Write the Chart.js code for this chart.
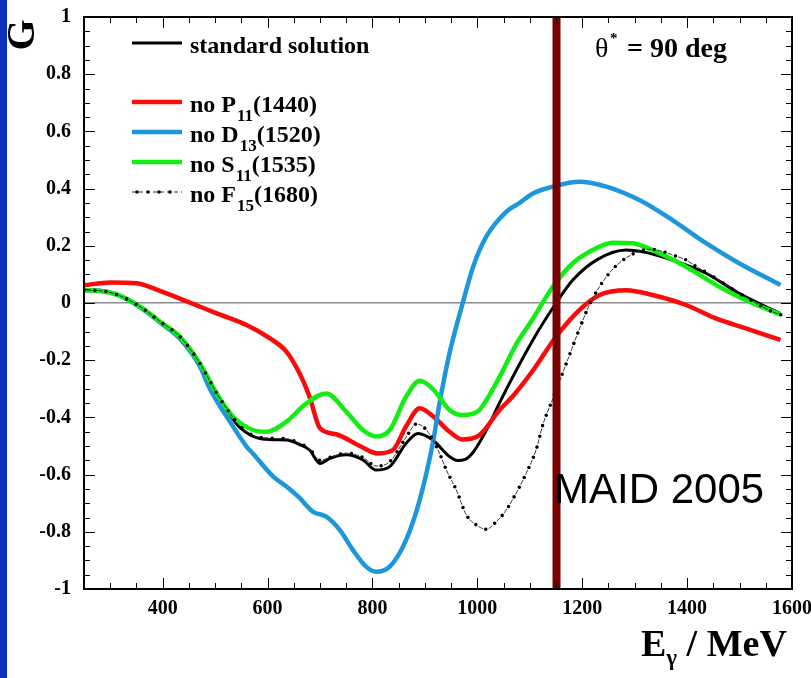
<!DOCTYPE html>
<html>
<head>
<meta charset="utf-8">
<script src="https://cdn.jsdelivr.net/npm/chart.js@4/dist/chart.umd.min.js"></script>
<style>
  html, body { margin: 0; padding: 0; background: #fff; }
  canvas { display: block; }
</style>
</head>
<body>
<canvas id="c" width="811" height="678"></canvas>
<script>
// Beam asymmetry G at theta* = 90 deg versus photon energy (MeV)
const E_STD = [250, 280, 312, 357, 395, 433, 471, 503, 534, 547, 585, 615, 636, 661, 680, 700, 719, 750, 782, 807, 833, 864, 887, 915, 947, 962, 977, 992, 1006, 1022, 1042, 1106, 1150, 1182, 1227, 1284, 1315, 1372, 1436, 1499, 1578];
const G_STD = [0.045, 0.043, 0.030, -0.013, -0.065, -0.118, -0.211, -0.316, -0.405, -0.435, -0.474, -0.478, -0.479, -0.495, -0.514, -0.561, -0.543, -0.531, -0.549, -0.584, -0.572, -0.491, -0.456, -0.479, -0.537, -0.551, -0.547, -0.522, -0.482, -0.428, -0.350, -0.129, -0.001, 0.080, 0.150, 0.185, 0.179, 0.150, 0.104, 0.034, -0.037];

const E_P11 = [250, 300, 350, 395, 452, 503, 560, 604, 636, 661, 680, 700, 731, 776, 810, 839, 864, 890, 915, 947, 972, 1004, 1042, 1068, 1106, 1150, 1195, 1233, 1284, 1334, 1398, 1455, 1512, 1578];
const G_P11 = [0.062, 0.072, 0.069, 0.042, 0.001, -0.036, -0.077, -0.123, -0.170, -0.246, -0.328, -0.438, -0.459, -0.500, -0.526, -0.514, -0.432, -0.368, -0.395, -0.450, -0.477, -0.462, -0.375, -0.325, -0.236, -0.118, -0.024, 0.028, 0.045, 0.028, -0.007, -0.054, -0.089, -0.129];

const E_D13 = [250, 280, 312, 357, 395, 433, 471, 490, 509, 522, 560, 572, 611, 636, 660, 687, 712, 738, 763, 788, 807, 833, 864, 890, 915, 928, 947, 972, 992, 1017, 1055, 1080, 1106, 1144, 1195, 1246, 1309, 1372, 1436, 1499, 1578];
const G_D13 = [0.045, 0.043, 0.030, -0.015, -0.068, -0.125, -0.222, -0.300, -0.360, -0.397, -0.502, -0.526, -0.607, -0.642, -0.680, -0.730, -0.747, -0.794, -0.864, -0.922, -0.940, -0.922, -0.829, -0.689, -0.491, -0.350, -0.175, -0.001, 0.127, 0.232, 0.319, 0.349, 0.383, 0.407, 0.424, 0.407, 0.360, 0.290, 0.209, 0.139, 0.063];

const E_S11 = [250, 280, 312, 357, 395, 433, 471, 503, 534, 572, 598, 636, 674, 712, 750, 782, 807, 833, 864, 890, 915, 947, 972, 990, 1004, 1042, 1074, 1106, 1144, 1182, 1220, 1258, 1296, 1334, 1398, 1461, 1525, 1578];
const G_S11 = [0.045, 0.043, 0.030, -0.013, -0.065, -0.118, -0.211, -0.316, -0.397, -0.444, -0.450, -0.415, -0.351, -0.316, -0.380, -0.444, -0.467, -0.444, -0.328, -0.272, -0.300, -0.374, -0.392, -0.388, -0.374, -0.260, -0.145, -0.055, 0.057, 0.139, 0.185, 0.211, 0.209, 0.185, 0.127, 0.057, -0.001, -0.040];

const E_F15 = [250, 280, 312, 357, 395, 433, 471, 503, 534, 547, 585, 636, 661, 680, 700, 719, 750, 782, 807, 833, 864, 884, 903, 928, 941, 960, 979, 998, 1017, 1036, 1055, 1074, 1093, 1112, 1125, 1144, 1160, 1173, 1188, 1198, 1208, 1220, 1233, 1247, 1264, 1284, 1306, 1328, 1350, 1372, 1395, 1416, 1437, 1458, 1479, 1498, 1519, 1541, 1562, 1580];
const G_F15 = [0.045, 0.043, 0.030, -0.013, -0.065, -0.118, -0.211, -0.316, -0.400, -0.430, -0.470, -0.475, -0.490, -0.510, -0.550, -0.540, -0.525, -0.540, -0.570, -0.555, -0.470, -0.423, -0.444, -0.526, -0.584, -0.654, -0.741, -0.776, -0.791, -0.765, -0.724, -0.665, -0.596, -0.514, -0.425, -0.335, -0.258, -0.195, -0.122, -0.075, -0.030, 0.017, 0.057, 0.094, 0.129, 0.158, 0.179, 0.188, 0.182, 0.168, 0.153, 0.129, 0.106, 0.083, 0.057, 0.036, 0.013, -0.010, -0.030, -0.042];

// energy marked by the vertical bar
const MARK_E = 1151;

const X_TICKS = [400, 600, 800, 1000, 1200, 1400, 1600];
const Y_TICKS = [-1, -0.8, -0.6, -0.4, -0.2, 0, 0.2, 0.4, 0.6, 0.8, 1];

const SERIF = "'Liberation Serif', 'Times New Roman', Times, serif";
const SANS = "'Liberation Sans', Arial, Helvetica, sans-serif";

const pts = (xs, ys) => xs.slice(0, Math.min(xs.length, ys.length)).map((x, i) => ({ x, y: ys[i] }));

const curve = (data, color, width, extra) => Object.assign({
  data, borderColor: color, borderWidth: width, pointRadius: 0,
  fill: false, tension: 0.4, cubicInterpolationMode: 'monotone'
}, extra || {});

// legend rows: line style + label with subscript
const LEGEND = [
  { y: 43,  main: 'standard solution', sub: '', tail: '', color: '#000', width: 3 },
  { y: 102, main: 'no P', sub: '11', tail: '(1440)', color: '#fa0a0a', width: 4.5 },
  { y: 132, main: 'no D', sub: '13', tail: '(1520)', color: '#1e96dc', width: 4.5 },
  { y: 162, main: 'no S', sub: '11', tail: '(1535)', color: '#12ee12', width: 4.5 },
  { y: 192, main: 'no F', sub: '15', tail: '(1680)', color: '#000', width: 1, dashdot: true }
];

// fixed frame: no automatic label padding
const fixPad = s => { s.paddingLeft = 0; s.paddingRight = 0; s.paddingTop = 0; s.paddingBottom = 0; };

const decor = {
  id: 'decor',
  beforeDraw(chart) {
    const ctx = chart.ctx;
    ctx.save();
    ctx.fillStyle = '#ffffff';
    ctx.fillRect(0, 0, chart.width, chart.height);
    ctx.fillStyle = '#0b30b9';
    ctx.fillRect(0, 0, 7, chart.height);
    ctx.restore();
  },
  afterDraw(chart) {
    const ctx = chart.ctx;
    const a = chart.chartArea;
    const xs = chart.scales.x, ys = chart.scales.y;
    ctx.save();

    // inward tick marks on all four sides
    ctx.strokeStyle = '#000';
    ctx.lineWidth = 1;
    ctx.beginPath();
    for (let k = 5; k <= 32; k++) {
      const v = k * 50;
      const px = Math.round(xs.getPixelForValue(v)) + 0.5;
      const len = (v % 200 === 0) ? 11 : 6;
      ctx.moveTo(px, a.bottom); ctx.lineTo(px, a.bottom - len);
      ctx.moveTo(px, a.top); ctx.lineTo(px, a.top + len);
    }
    for (let k = -20; k <= 20; k++) {
      const py = Math.round(ys.getPixelForValue(k * 0.05)) + 0.5;
      const len = (k % 4 === 0) ? 11 : 6;
      ctx.moveTo(a.left, py); ctx.lineTo(a.left + len, py);
      ctx.moveTo(a.right, py); ctx.lineTo(a.right - len, py);
    }
    ctx.stroke();

    // frame
    ctx.lineWidth = 2;
    ctx.strokeRect(a.left, a.top, a.right - a.left, a.bottom - a.top);

    // legend
    ctx.textBaseline = 'alphabetic';
    ctx.textAlign = 'left';
    LEGEND.forEach(r => {
      ctx.save();
      ctx.strokeStyle = r.color;
      ctx.lineWidth = r.width;
      if (r.dashdot) {
        ctx.strokeStyle = '#333';
        ctx.setLineDash([4, 3]);
        ctx.beginPath(); ctx.moveTo(132, r.y); ctx.lineTo(182, r.y); ctx.stroke();
        ctx.setLineDash([]);
        ctx.fillStyle = '#000';
        for (let x = 137; x <= 180; x += 11) {
          ctx.beginPath(); ctx.arc(x, r.y, 1.8, 0, Math.PI * 2); ctx.fill();
        }
      } else {
        ctx.beginPath(); ctx.moveTo(132, r.y); ctx.lineTo(182, r.y); ctx.stroke();
      }
      ctx.restore();
      let x = 190;
      const base = r.y + 10;
      ctx.fillStyle = '#000';
      ctx.font = 'bold 24px ' + SERIF;
      ctx.fillText(r.main, x, base);
      x += ctx.measureText(r.main).width;
      if (r.sub) {
        ctx.font = 'bold 17px ' + SERIF;
        ctx.fillText(r.sub, x + 1, base + 9);
        x += ctx.measureText(r.sub).width + 1;
        ctx.font = 'bold 24px ' + SERIF;
        ctx.fillText(r.tail, x, base);
      }
    });

    // angle annotation
    ctx.fillStyle = '#000';
    ctx.font = '28px ' + SERIF;
    ctx.fillText('\u03B8', 595, 57);
    ctx.font = 'bold 15px ' + SERIF;
    ctx.fillText('*', 610, 43);
    ctx.font = 'bold 28px ' + SERIF;
    ctx.fillText('= 90 deg', 627, 57);

    // model label
    ctx.font = '42px ' + SANS;
    ctx.fillText('MAID 2005', 554, 503);

    // axis titles
    ctx.font = 'bold 38px ' + SERIF;
    let tx = 641;
    ctx.fillText('E', tx, 656);
    tx += ctx.measureText('E').width;
    ctx.font = 'bold 23px ' + SERIF;
    ctx.fillText('\u03B3', tx, 665);
    tx += ctx.measureText('\u03B3').width;
    ctx.font = 'bold 38px ' + SERIF;
    ctx.fillText(' / MeV', tx, 656);

    ctx.save();
    ctx.translate(24, 35);
    ctx.rotate(-Math.PI / 2);
    ctx.textAlign = 'center';
    ctx.textBaseline = 'middle';
    ctx.font = 'bold 40px ' + SERIF;
    ctx.fillText('G', 0, 0);
    ctx.restore();

    ctx.restore();
  }
};

const tickFont = { family: SERIF, weight: 'bold', size: 20 };

new Chart(document.getElementById('c'), {
  type: 'line',
  data: {
    datasets: [
      // vertical marker bar (drawn on top)
      { data: [{ x: MARK_E, y: -1 }, { x: MARK_E, y: 1 }], borderColor: '#7a0000', borderWidth: 8,
        pointRadius: 0, tension: 0, borderCapStyle: 'butt', fill: false },
      // no F15: dots along the curve
      curve(pts(E_F15, G_F15), '#000', 3.6, { borderDash: [0, 11], borderCapStyle: 'round' }),
      // no F15: thin dashes between the dots
      curve(pts(E_F15, G_F15), '#3a3a3a', 1, { borderDash: [5, 6], borderDashOffset: -3 }),
      curve(pts(E_S11, G_S11), '#12ee12', 4.5),
      curve(pts(E_D13, G_D13), '#1e96dc', 4.5),
      curve(pts(E_P11, G_P11), '#fa0a0a', 4.5),
      curve(pts(E_STD, G_STD), '#000', 3)
    ]
  },
  options: {
    responsive: false,
    animation: false,
    devicePixelRatio: 1,
    layout: { padding: { left: 0, right: 19, top: 17, bottom: 0 } },
    plugins: { legend: { display: false }, tooltip: { enabled: false } },
    scales: {
      x: {
        type: 'linear', min: 250, max: 1600,
        afterBuildTicks: s => { s.ticks = X_TICKS.map(v => ({ value: v })); },
        afterFit: s => { s.height = 89; fixPad(s); },
        grid: { display: false, drawTicks: false },
        border: { display: false },
        ticks: { font: tickFont, color: '#000', padding: 8, maxRotation: 0, autoSkip: false,
                 callback: v => String(v) }
      },
      y: {
        type: 'linear', min: -1, max: 1,
        afterBuildTicks: s => { s.ticks = Y_TICKS.map(v => ({ value: v })); },
        afterFit: s => { s.width = 84; fixPad(s); },
        grid: { drawTicks: false, lineWidth: 1.5,
                color: c => (c.tick && Math.abs(c.tick.value) < 1e-9) ? '#8c8c8c' : 'rgba(0,0,0,0)' },
        border: { display: false },
        ticks: { font: tickFont, color: '#000', padding: 13, autoSkip: false,
                 callback: v => String(Math.round(v * 10) / 10) }
      }
    }
  },
  plugins: [decor]
});
</script>
</body>
</html>
